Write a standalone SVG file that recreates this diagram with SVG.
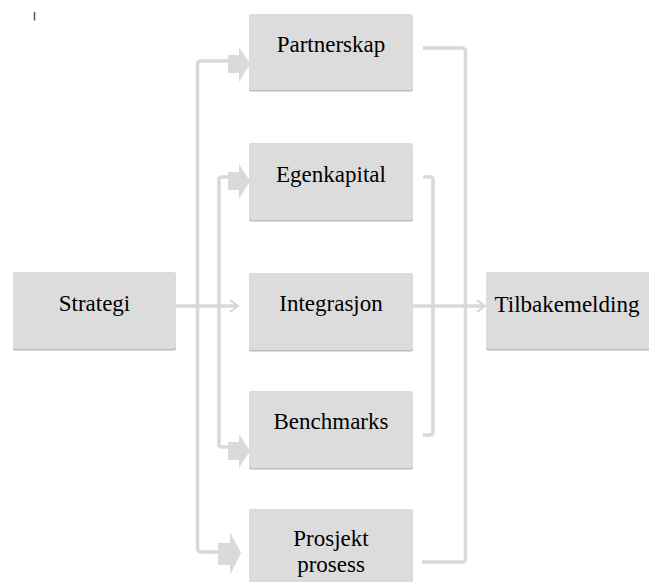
<svg xmlns="http://www.w3.org/2000/svg" width="649" height="582" viewBox="0 0 649 582">
<defs>
<style>
.box{fill:#dcdcdc}
.sh{fill:#bcbcbc}
.lbl{font-family:"Liberation Serif","Times New Roman",serif;font-size:23px;fill:#000;text-anchor:middle}
.ln{fill:none;stroke:#d9d9d9;stroke-width:3.5;stroke-linejoin:round}
.blk{fill:#dadada}
.chev{fill:none;stroke:#d4d4d4;stroke-width:2}
</style>
</defs>
<rect width="649" height="582" fill="#fff"/>
<line x1="34.5" y1="12" x2="34.5" y2="20.5" stroke="#555" stroke-width="1.5"/>
<g id="connectors">
<path class="ln" d="M230 61 H201 Q197.5 61 197.5 65 V548 Q197.5 552 201 552 H220"/>
<path class="ln" d="M230 177 H222 Q219 177 219 180 V444 Q219 447 222 447 H230"/>
<path class="ln" d="M423 48 H461 Q465.5 48 465.5 52 V558 Q465.5 562 461 562 H422"/>
<path class="ln" d="M423 177 H430 Q433 177 433 180 V432 Q433 435 430 435 H423"/>
<path class="ln" d="M176 306 H237"/>
<path class="chev" d="M230 300 L238 306 L230 312"/>
<path class="ln" d="M413 306 H484"/>
<path class="chev" d="M477 300 L485 306 L477 312"/>
<polygon class="blk" points="228,55 239,55 239,47 250,64 239,82 239,73 228,73"/>
<polygon class="blk" points="228,172 239,172 239,164 250,181 239,199 239,190 228,190"/>
<polygon class="blk" points="228,442 239,442 239,434 250,451 239,468 239,460 228,460"/>
<polygon class="blk" points="218,543 230,543 230,532 241,553 230,575 230,565 218,565"/>
</g>
<g id="strategi">
<rect class="sh" x="13" y="273.5" width="163" height="77" rx="2"/>
<rect class="box" x="13" y="272" width="163" height="77" rx="2"/>
<text class="lbl" x="94.5" y="311">Strategi</text>
</g>
<g id="partnerskap">
<rect class="sh" x="249" y="15.5" width="164" height="76" rx="2"/>
<rect class="box" x="249" y="14" width="164" height="76" rx="2"/>
<text class="lbl" x="331" y="52">Partnerskap</text>
</g>
<g id="egenkapital">
<rect class="sh" x="249" y="144.5" width="164" height="77" rx="2"/>
<rect class="box" x="249" y="143" width="164" height="77" rx="2"/>
<text class="lbl" x="331" y="182">Egenkapital</text>
</g>
<g id="integrasjon">
<rect class="sh" x="249" y="274.5" width="164" height="77" rx="2"/>
<rect class="box" x="249" y="273" width="164" height="77" rx="2"/>
<text class="lbl" x="331" y="311">Integrasjon</text>
</g>
<g id="benchmarks">
<rect class="sh" x="249" y="392.5" width="164" height="77" rx="2"/>
<rect class="box" x="249" y="391" width="164" height="77" rx="2"/>
<text class="lbl" x="331" y="429">Benchmarks</text>
</g>
<g id="prosjekt">
<rect class="box" x="249" y="509" width="164" height="80" rx="2"/>
<text class="lbl" x="331" y="546">Prosjekt</text>
<text class="lbl" x="331" y="572">prosess</text>
</g>
<g id="tilbakemelding">
<rect class="sh" x="486" y="273.5" width="170" height="77" rx="2"/>
<rect class="box" x="486" y="272" width="170" height="77" rx="2"/>
<text class="lbl" x="567" y="312">Tilbakemelding</text>
</g>
</svg>
